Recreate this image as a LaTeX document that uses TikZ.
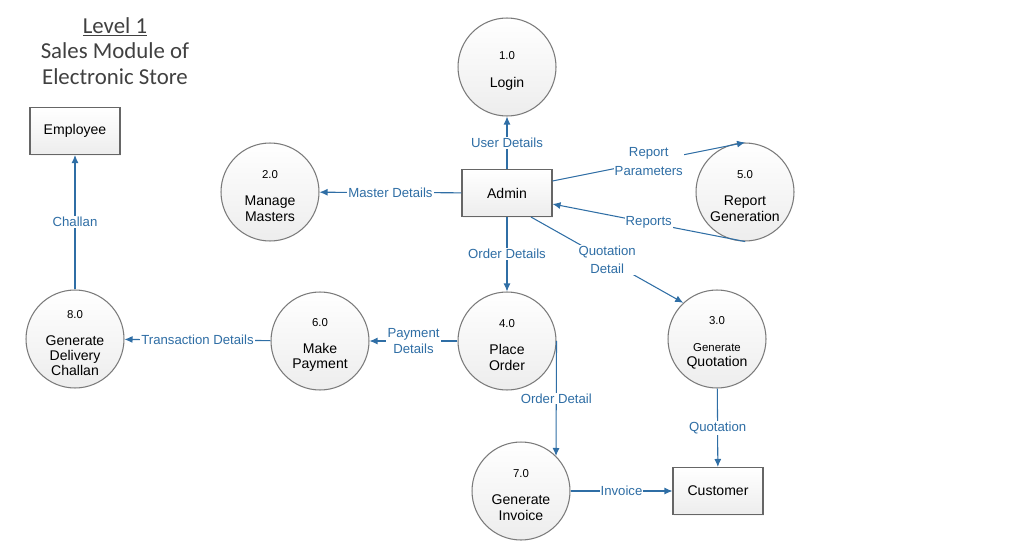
\documentclass[tikz,border=0pt]{standalone}
\usepackage{fontspec}
\setmainfont{Liberation Sans}
\newfontfamily\titlefont{Carlito}
\usepackage{tikz}
\usetikzlibrary{arrows.meta, calc, shadows}
\definecolor{colorFlow}{HTML}{2F6EA5}
\definecolor{colorEdge}{HTML}{7A7A7A}
\definecolor{colorBox}{HTML}{666666}
\definecolor{colorFill}{HTML}{EDEDED}
\newcommand{\pid}[1]{{\fontsize{6.5}{7}\selectfont\rule{0pt}{9pt}#1}\\[7pt]}

\begin{document}
\begin{tikzpicture}[
        x=0.02cm, y=-0.02cm,
        proc/.style={circle, draw=colorEdge, top color=white, bottom color=colorFill, line width=0.6pt,
            minimum size=1.96cm, inner sep=0pt, align=center, font=\fontsize{8}{8.6}\selectfont},
        ent/.style={draw=colorBox, top color=white, bottom color=colorFill, line width=0.6pt,
            minimum width=1.8cm, minimum height=0.94cm, font=\fontsize{8}{9}\selectfont,
            drop shadow={opacity=0.08, shadow xshift=0.6pt, shadow yshift=-0.6pt}},
        rel/.style={-{Latex[length=1.6mm, width=1.4mm]}, colorFlow, line width=0.6pt},
        lab/.style={fill=white, inner sep=0.6pt, text=colorFlow, align=center, font=\fontsize{7.5}{8.6}\selectfont}
    ]
        \useasboundingbox (0,0) rectangle (1024,551);
        \node[font=\titlefont\fontsize{13}{14.7}\selectfont, text=black!75, align=center] (ttl) at (115,51)
            {\underline{Level 1}\\Sales Module of\\Electronic Store};

        \node[ent] (emp) at (75,131) {Employee};
        \node[ent] (adm) at (507,193) {Admin};
        \node[ent] (cus) at (718,491) {Customer};

        \node[proc] (log) at (507,67) {\pid{1.0}Login};
        \node[proc] (mas) at (270,192) {\pid{2.0}Manage\\Masters};
        \node[proc] (rep) at (745,192) {\pid{5.0}Report\\Generation};
        \node[proc] (pla) at (507,341) {\pid{4.0}Place\\Order};
        \node[proc] (quo) at (717,339) {\pid{3.0}{\fontsize{6.5}{7}\selectfont Generate}\\Quotation};
        \node[proc] (pay) at (320,341) {\pid{6.0}Make\\Payment};
        \node[proc] (chl) at (75,339) {\pid{8.0}Generate\\Delivery\\Challan};
        \node[proc] (inv) at (521,491) {\pid{7.0}Generate\\Invoice};

        \draw[rel] (adm) -- node[lab] {User Details} (log);
        \draw[rel] (adm) -- node[lab] {Master Details} (mas);
        \draw[rel] ($(adm.east)+(0,-12)$) -- node[lab] {Report\\[2pt]Parameters} (rep.north);
        \draw[rel] (rep.south) -- node[lab] {Reports} ($(adm.east)+(0,11)$);
        \draw[rel] (adm) -- node[lab] {Order Details} (pla);
        \draw[rel] ($(adm.south)+(24,0)$) -- node[lab] {Quotation\\[2pt]Detail} (quo.133);
        \draw[rel] (pla) -- node[lab] {Payment\\Details} (pay);
        \draw[rel] (pay) -- node[lab] {Transaction Details} (chl);
        \draw[rel] (chl) -- node[lab] {Challan} (emp);
        \draw[rel] (pla.east) -- node[lab] {Order Detail} (inv.45);
        \draw[rel] (inv) -- node[lab] {Invoice} (cus);
        \draw[rel] (quo) -- node[lab] {Quotation} (cus);
    \end{tikzpicture}
\end{document}
